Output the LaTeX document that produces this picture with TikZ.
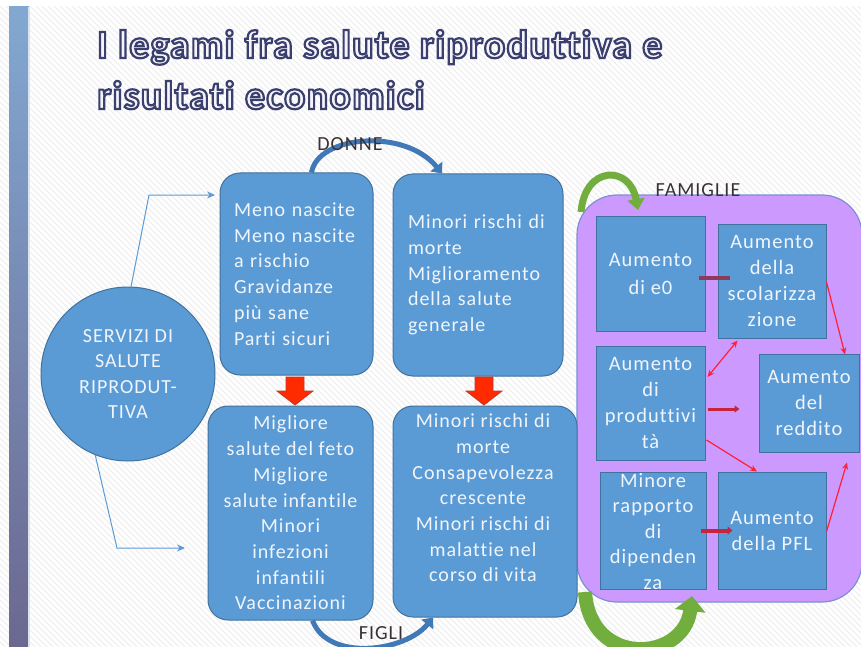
\documentclass[tikz,border=0pt]{standalone}
\usepackage{fontspec}
\setmainfont{Carlito}
\newfontfamily\boxfont[LetterSpace=5,Ligatures=CommonOff]{Carlito}
\newfontfamily\titlefont[LetterSpace=3,Ligatures=CommonOff]{Carlito}
\usetikzlibrary{arrows.meta,calc}
\definecolor{boxblue}{HTML}{5B9BD5}
\definecolor{boxedge}{HTML}{41719C}
\definecolor{boxtext}{HTML}{F0F5FB}
\definecolor{purplefill}{HTML}{CC99FF}
\definecolor{purpleedge}{HTML}{7C8FD2}
\definecolor{arcblue}{HTML}{4178B6}
\definecolor{blockred}{HTML}{FF2A00}
\definecolor{blockredge}{HTML}{C0392B}
\definecolor{linkred}{HTML}{FF2035}
\definecolor{maroonbar}{HTML}{8E3A59}
\definecolor{redbar}{HTML}{C8243C}
\definecolor{greenarc}{HTML}{72AE3E}
\definecolor{titlefill}{HTML}{F4F4FA}
\definecolor{labeltext}{HTML}{3A3232}
\definecolor{thinblue}{HTML}{5B9BD5}
\definecolor{barTop}{HTML}{82A8D2}
\definecolor{barBot}{HTML}{6B6890}
\newcommand\outlineon{\special{pdf:literal direct 2 Tr 2.2 w 0.227 0.247 0.431 RG}}
\newcommand\outlineoff{\special{pdf:literal direct 0 Tr}}
\tikzset{
  titlestyle/.style={anchor=base west,inner sep=0pt,text=titlefill,
    font=\titlefont\bfseries\fontsize{40}{44}\selectfont},
  rbox/.style={rectangle,rounded corners=20pt,fill=boxblue,draw=boxedge,line width=1pt,inner sep=0pt,
    text=boxtext,font=\boxfont\fontsize{20}{25.7}\selectfont},
  btext/.style={inner sep=0pt,text=boxtext,align=center,font=\boxfont\fontsize{20}{25.7}\selectfont},
  sq/.style={rectangle,fill=boxblue,draw=boxedge,line width=1pt,inner sep=0pt,text=boxtext,align=center,
    font=\boxfont\fontsize{20.5}{26}\selectfont},
  sqtext/.style={inner sep=0pt,text=boxtext,align=center,font=\boxfont\fontsize{20.5}{25.5}\selectfont},
  lbl/.style={inner sep=0pt,text=labeltext,font=\boxfont\fontsize{20}{22}\selectfont},
  thinarrow/.style={draw=thinblue,line width=1pt,-{Stealth[length=8pt,width=7pt]}},
  arcarrow/.style={draw=arcblue,line width=5pt,-{Triangle[width=15pt,length=9pt]}},
  greenarrow/.style={draw=greenarc,-{Triangle[width=17pt,length=11pt]}},
  redblock/.style={fill=blockred,draw=blockredge,line width=0.8pt},
  redlink/.style={draw=linkred,line width=1.2pt,-{Stealth[length=7pt,width=6pt]}},
  redlinkboth/.style={draw=linkred,line width=1.2pt,{Stealth[length=7pt,width=6pt]}-{Stealth[length=7pt,width=6pt]}},
}
\begin{document}
\begin{tikzpicture}[x=1pt,y=-1pt]
\useasboundingbox (0,0) rectangle (861,647);
\fill[white] (0,0) rectangle (861,647);
\begin{scope}
  \clip (0,7) rectangle (861,647);
  \foreach \i in {-660,-654,...,860}{\draw[black!6,line width=1.2pt] (\i,0) -- ++(660,660);}
\end{scope}
% left bar
\shade[top color=barTop,bottom color=barBot] (9,7) rectangle (29,647);
\draw[white!70!barTop,line width=1.5pt] (29,7) -- (29,647);
% title
\node[titlestyle] (t1) at (97,58) {\outlineon I legami fra salute riproduttiva e\outlineoff};
\node[titlestyle] (t2) at (97,109) {\outlineon risultati economici\outlineoff};
% purple container
\node[rectangle,rounded corners=40pt,fill=purplefill,draw=purpleedge,line width=1.2pt,
  minimum width=285pt,minimum height=407pt,inner sep=0pt] (fam) at (719.5,398.5) {};
% circle
\node[circle,fill=boxblue,draw=boxedge,line width=1pt,minimum size=174pt,inner sep=0pt,
  text=boxtext,align=center,font=\boxfont\fontsize{20}{25.5}\selectfont] (serv) at (128,374)
  {SERVIZI DI\\SALUTE\\RIPRODUT-\\TIVA};
% rounded boxes
\node[rbox,minimum width=153pt,minimum height=202pt,text width=125pt,align=left] (A) at (296.5,274)
  {Meno nascite\\Meno nascite\\a rischio\\Gravidanze\\più sane\\Parti sicuri};
\node[rbox,minimum width=170pt,minimum height=202pt,text width=140pt,align=left] (B) at (478,275)
  {Minori rischi di\\morte\\Miglioramento\\della salute\\generale};
\node[rbox,minimum width=165pt,minimum height=214pt,align=center] (C) at (290.5,513)
  {Migliore\\salute del feto\\Migliore\\salute infantile\\Minori\\infezioni\\infantili\\Vaccinazioni};
\node[rbox,minimum width=184pt,minimum height=211pt] (D) at (485,511.5) {};
\node[btext] (Dt) at (483,498)
  {Minori rischi di\\morte\\Consapevolezza\\crescente\\Minori rischi di\\malattie nel\\corso di vita};
% inner squares
\node[sq,minimum width=109pt,minimum height=115pt] (e0) at (650.5,273.5) {Aumento\\[2pt]di e0};
\node[sq,minimum width=108pt,minimum height=114pt] (scol) at (772,281) {Aumento\\della\\scolarizza\\zione};
\node[sq,minimum width=109pt,minimum height=114pt] (prod) at (650.5,403) {Aumento\\di\\produttivi\\tà};
\node[sq,minimum width=100pt,minimum height=98pt] (red) at (809,403) {Aumento\\del\\reddito};
\node[sq,minimum width=106pt,minimum height=117pt] (dip) at (653,530.5) {};
\node[sqtext] (dipt) at (653,531.5) {Minore\\rapporto\\di\\dipenden\\za};
\node[sq,minimum width=108pt,minimum height=117pt] (pfl) at (772,530.5) {Aumento\\della PFL};
% thin connectors from circle
\coordinate (t1end) at (215,195);
\coordinate (b1end) at (185,548);
\draw[thinarrow] (serv.88) -- (149,195) -- (t1end);
\draw[thinarrow] (serv.248) -- (117,548) -- (b1end);
% red block arrows
\coordinate (ra) at (295,377);
\coordinate (rb) at (484,377);
\foreach \c in {ra,rb}{
  \filldraw[redblock] ($(\c)+(-9,0)$) -- ($(\c)+(9,0)$) -- ($(\c)+(9,14)$) -- ($(\c)+(18,14)$)
    -- ($(\c)+(0,28)$) -- ($(\c)+(-18,14)$) -- ($(\c)+(-9,14)$) -- cycle;
}
% DONNE / FIGLI arcs
\draw[arcarrow] ([xshift=15pt]A.north) .. controls (318,135) and (405,128) .. ([xshift=-36pt]B.north);
\draw[arcarrow] ([xshift=22pt]C.south) .. controls (328,662) and (405,652) .. ([xshift=-52pt]D.south);
\node[lbl] (donne) at (350,144) {DONNE};
\node[lbl] (figli) at (381,633) {FIGLI};
% green arcs
\coordinate (g1) at (581,212);
\coordinate (g2) at (638,210);
\draw[greenarrow,line width=7pt] (g1) .. controls (585,165) and (630,165) .. (g2);
\coordinate (g3) at (585,592);
\coordinate (g4) at (692,596);
\draw[greenarrow,line width=14pt,-{Triangle[width=30pt,length=15pt]}] (g3) .. controls (590,668) and (684,662) .. (g4);
\node[lbl] (famiglie) at (698,190) {FAMIGLIE};
% links inside
\draw[draw=maroonbar,line width=4pt] ([xshift=-7pt,yshift=-4.5pt]e0.east) -- ([xshift=12pt,yshift=3pt]scol.west);
\draw[redlinkboth] ([xshift=20pt,yshift=-2pt]scol.south west) -- ([xshift=2pt,yshift=26pt]prod.east);
\draw[redlink] ([yshift=-1pt]scol.east) -- ([xshift=36pt,yshift=-1pt]red.north);
\draw[draw=redbar,line width=3pt,-{Triangle[width=7pt,length=5pt,fill=maroonbar]}] ([xshift=2pt,yshift=-6pt]prod.east) -- ([xshift=-19pt,yshift=-6pt]red.west);
\draw[redlink] ([xshift=1pt,yshift=-37pt]prod.east) -- ([xshift=-15pt]pfl.north);
\draw[draw=redbar,line width=4pt,-{Triangle[width=8pt,length=5pt]}] ([xshift=-6pt]dip.east) -- ([xshift=15pt]pfl.west);
\draw[redlink] ([yshift=-1pt]pfl.east) -- ([xshift=38pt,yshift=-10pt]red.south);
\end{tikzpicture}
\end{document}
